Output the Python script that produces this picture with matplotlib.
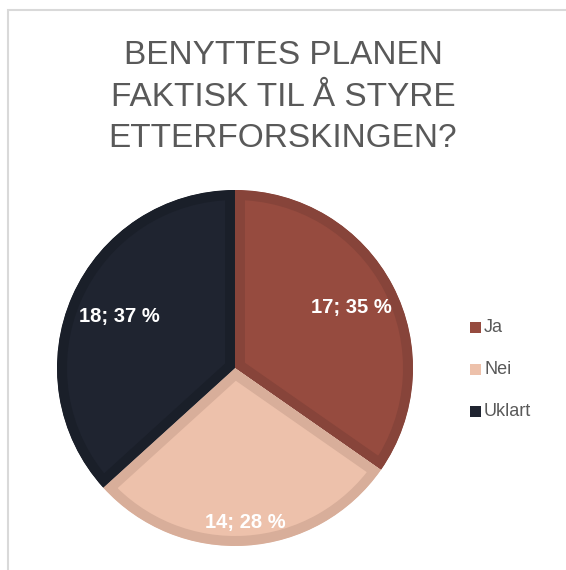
import numpy as np
import matplotlib.pyplot as plt
from matplotlib.patches import Rectangle

# --- data ---
categories = ["Ja", "Nei", "Uklart"]
counts = [17, 14, 18]
percent_labels = ["35 %", "28 %", "37 %"]

fill_colors = ["#964B3F", "#EDC1AB", "#1F2430"]
edge_colors = ["#87443A", "#D8AE9A", "#1A1F29"]
label_dist = [0.74, 0.87, 0.71]

font = ["Liberation Sans", "DejaVu Sans"]

fig = plt.figure(figsize=(5.66, 5.70), dpi=100)

# light frame around the chart area (only left/top edges visible)
fig.patches.append(Rectangle((8 / 566, -0.1), 1.2, (570 - 10) / 570 + 0.1,
                             transform=fig.transFigure, fill=False,
                             edgecolor="#D9D9D9", linewidth=1.5))

fig.text(283 / 566, 1 - 97 / 570,
         "BENYTTES PLANEN\nFAKTISK TIL Å STYRE\nETTERFORSKINGEN?",
         ha="center", va="center", fontsize=24, color="#595959",
         family=font, linespacing=1.43)

r_px = 178
ax = fig.add_axes([(235 - r_px) / 566, (202 - r_px) / 570,
                   2 * r_px / 566, 2 * r_px / 570])
wedges, _ = ax.pie(counts, colors=fill_colors, startangle=90,
                   counterclock=False, radius=1)
for w, ec in zip(wedges, edge_colors):
    w.set_edgecolor(ec)
    w.set_linewidth(14.4)
    w.set_clip_path(w)
    w.set_clip_on(True)

for w, cnt, pct, d in zip(wedges, counts, percent_labels, label_dist):
    ang = np.deg2rad((w.theta1 + w.theta2) / 2)
    ax.text(d * np.cos(ang), d * np.sin(ang), f"{cnt}; {pct}",
            ha="center", va="center", color="white", fontsize=14.5,
            family=font, weight="bold")

ax.set_xlim(-1, 1)
ax.set_ylim(-1, 1)
ax.set_aspect("equal")
ax.axis("off")

# legend
for i, (cat, col) in enumerate(zip(categories, fill_colors)):
    y = 1 - (327 + 42 * i) / 570
    fig.patches.append(Rectangle((470 / 566, y - 5.5 / 570), 11 / 566, 11 / 570,
                                 transform=fig.transFigure, facecolor=col,
                                 edgecolor="none"))
    fig.text(484 / 566, y, cat, ha="left", va="center", fontsize=13,
             color="#595959", family=font)

fig.savefig("out.png", dpi=100)
